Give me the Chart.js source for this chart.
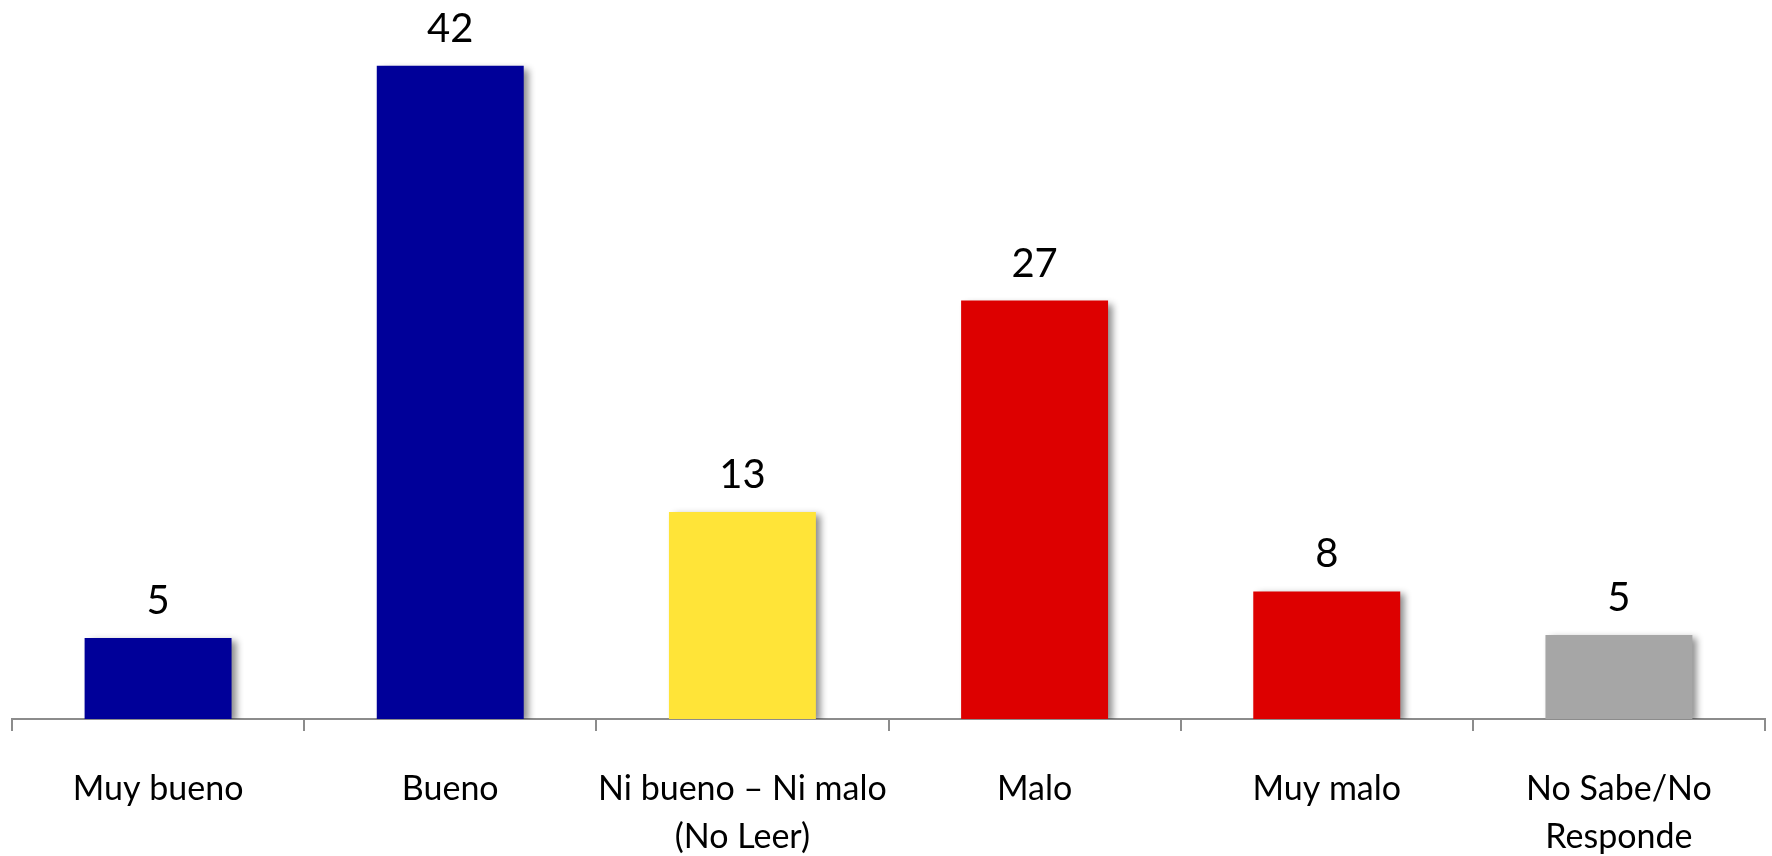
<!DOCTYPE html>
<html>
<head>
<meta charset="utf-8">
<script src="https://cdn.jsdelivr.net/npm/chart.js@4/dist/chart.umd.min.js"></script>
<style>
  html, body { margin: 0; padding: 0; background: #fff; overflow: hidden; }
  #wrap { width: 1772px; height: 856px; position: relative; }
</style>
</head>
<body>
<div id="wrap"><canvas id="grafico"></canvas></div>
<script>
// datos
const categorias = [
  'Muy bueno',
  'Bueno',
  ['Ni bueno – Ni malo', '(No Leer)'],
  'Malo',
  'Muy malo',
  ['No Sabe/No', 'Responde']
];
const valores = [5.2, 42, 13.3, 26.9, 8.2, 5.4];
const etiquetas = ['5', '42', '13', '27', '8', '5'];
const colores = ['#000099', '#000099', '#FFE438', '#DD0000', '#DD0000', '#A6A6A6'];

const fuente = 'Lato, "DejaVu Sans", sans-serif';

// sombra de las barras
const sombra = {
  id: 'sombra',
  beforeDatasetsDraw(chart) {
    const ctx = chart.ctx;
    ctx.save();
    ctx.shadowColor = 'rgba(0,0,0,0.45)';
    ctx.shadowBlur = 7;
    ctx.shadowOffsetX = 5;
    ctx.shadowOffsetY = 3;
  },
  afterDatasetsDraw(chart) {
    chart.ctx.restore();
  }
};

// numeros encima de las barras
const numeros = {
  id: 'numeros',
  afterDatasetsDraw(chart) {
    const ctx = chart.ctx;
    const meta = chart.getDatasetMeta(0);
    ctx.save();
    ctx.shadowColor = 'transparent';
    ctx.fillStyle = '#000';
    ctx.font = '40px ' + fuente;
    ctx.textAlign = 'center';
    ctx.textBaseline = 'alphabetic';
    meta.data.forEach((bar, i) => {
      ctx.fillText(etiquetas[i], bar.x, bar.y - 24);
    });
    ctx.restore();
  }
};

new Chart(document.getElementById('grafico'), {
  type: 'bar',
  data: {
    labels: categorias,
    datasets: [{
      data: valores,
      backgroundColor: colores,
      borderWidth: 0,
      categoryPercentage: 1,
      barPercentage: 0.503
    }]
  },
  options: {
    responsive: true,
    maintainAspectRatio: false,
    animation: false,
    devicePixelRatio: 1,
    layout: { padding: { top: 19, left: 12, right: 7, bottom: 0 } },
    plugins: {
      legend: { display: false },
      tooltip: { enabled: false }
    },
    scales: {
      x: {
        offset: true,
        grid: {
          offset: true,
          drawOnChartArea: false,
          drawTicks: true,
          tickLength: 12,
          lineWidth: 2,
          color: '#8C8C8C'
        },
        border: { display: true, color: '#8C8C8C', width: 2 },
        ticks: {
          color: '#000',
          padding: 34,
          maxRotation: 0,
          autoSkip: false,
          font: { family: fuente, size: 34, lineHeight: 1.41 }
        },
        afterFit(s) { s.height = 137; }
      },
      y: {
        display: false,
        min: 0,
        max: 45
      }
    }
  },
  plugins: [sombra, numeros]
});
</script>
</body>
</html>
